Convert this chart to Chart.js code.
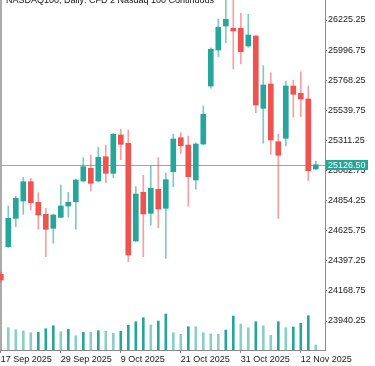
<!DOCTYPE html>
<html>
<head>
<meta charset="utf-8">
<script src="https://cdn.jsdelivr.net/npm/chart.js@4.4.0/dist/chart.umd.min.js"></script>
<style>
  html, body { margin: 0; padding: 0; background: #fff; }
  #wrap { width: 375px; height: 366px; position: relative; }
</style>
</head>
<body>
<div id="wrap"><canvas id="ndxChart"></canvas></div>
<script>
// daily bars, 17 Sep - 14 Nov 2025
var dates = ['17 Sep 2025', '18 Sep 2025', '19 Sep 2025', '22 Sep 2025', '23 Sep 2025', '24 Sep 2025',
  '25 Sep 2025', '26 Sep 2025', '29 Sep 2025', '30 Sep 2025', '1 Oct 2025', '2 Oct 2025', '3 Oct 2025',
  '6 Oct 2025', '7 Oct 2025', '8 Oct 2025', '9 Oct 2025', '10 Oct 2025', '13 Oct 2025', '14 Oct 2025',
  '15 Oct 2025', '16 Oct 2025', '17 Oct 2025', '20 Oct 2025', '21 Oct 2025', '22 Oct 2025', '23 Oct 2025',
  '24 Oct 2025', '27 Oct 2025', '28 Oct 2025', '29 Oct 2025', '30 Oct 2025', '31 Oct 2025', '3 Nov 2025',
  '4 Nov 2025', '5 Nov 2025', '6 Nov 2025', '7 Nov 2025', '10 Nov 2025', '11 Nov 2025', '12 Nov 2025',
  '13 Nov 2025', '14 Nov 2025'];

var opens = [24294.8, 24504.3, 24719.9, 24851.2, 24997.7, 24841.3, 24750.3, 24644.0, 24727.5, 24813.3,
  24845.9, 25003.1, 25099.5, 25003.1, 25187.5, 25061.5, 25352.3, 25289.3, 24547.6, 24917.3,
  24757.8, 24940.1, 24795.8, 25073.7, 25331.8, 25276.3, 25010.6, 25283.9, 25724.2, 25997.5,
  26179.7, 26162.3, 26162.3, 26027.9, 26103.8, 25555.0, 25739.4, 25301.4, 25327.2, 25724.2,
  25668.8, 25625.6, 25094.2];
var highs = [24312.2, 24813.3, 24889.2, 25031.2, 25023.6, 24914.2, 24795.8, 24752.5, 24972.7, 24917.3,
  25018.2, 25179.9, 25200.4, 25258.9, 25276.3, 25365.2, 25395.5, 25390.2, 24961.3, 25046.3,
  25116.9, 25179.9, 25063.8, 25357.6, 25369.7, 25344.7, 25293.8, 25572.4, 26015.0, 26232.9,
  26399.8, 26384.7, 26276.1, 26268.5, 26107.6, 25878.3, 25825.2, 25357.6, 25762.2, 25769.8,
  25832.8, 25724.2, 25154.9];
var lows = [24236.3, 24498.2, 24656.2, 24750.3, 24782.9, 24636.4, 24428.4, 24530.1, 24722.2, 24727.5,
  24636.4, 24995.5, 24927.1, 24995.5, 24990.2, 25028.1, 25164.8, 24390.4, 24542.2, 24428.4,
  24669.0, 24648.5, 24416.2, 24959.8, 25210.3, 24811.0, 24940.1, 25276.3, 25706.8, 25946.7,
  26052.9, 25853.3, 25891.3, 26018.0, 25521.6, 25289.3, 25205.8, 24716.9, 25271.0, 25486.6,
  25491.2, 25006.9, 25090.4];
var closes = [24251.5, 24719.9, 24871.7, 24997.7, 24838.3, 24744.9, 24636.4, 24744.9, 24813.3, 24841.3,
  25010.6, 25111.6, 24985.6, 25183.0, 25061.5, 25357.6, 25281.7, 24441.3, 24904.4, 24752.5,
  24947.6, 24790.5, 25012.9, 25321.9, 25271.0, 25035.7, 25283.9, 25509.4, 26002.8, 26169.9,
  26230.6, 26141.8, 25984.6, 26111.4, 25580.0, 25731.8, 25314.3, 25198.2, 25724.2, 25661.2,
  25625.6, 25081.2, 25126.5];
var volumes = [null, 223000, 203000, 190000, 173000, 177000, 213000, 243000, 183000, 207000,
  143000, 177000, 177000, 193000, 187000, 167000, 187000, 247000, 283000, 323000,
  250000, 290000, 360000, 173000, 157000, 233000, 233000, 173000, 160000, 157000,
  200000, 340000, 260000, 223000, 283000, 243000, 147000, 283000, 223000, 230000,
  267000, 343000, 50000];

var priceTicks = [26225.25, 25996.75, 25768.25, 25539.75, 25311.25, 25082.75, 24854.25,
  24625.75, 24397.25, 24168.75, 23940.25];
var dateTicks = ['17 Sep 2025', '29 Sep 2025', '9 Oct 2025', '21 Oct 2025', '31 Oct 2025', '12 Nov 2025'];
var lastPrice = 25126.50;
var chartTitle = 'NASDAQ100, Daily: CFD 2 Nasdaq 100 Continuous';

var UP = '#26a69a', DOWN = '#ef5350';
var UP_WICK = 'rgba(38,166,154,0.6)', DOWN_WICK = 'rgba(239,83,80,0.55)';
var VOL_UP = '#26a69a', VOL_DOWN = '#88cfc8';
var AXIS = '#8a8a8a';
var FONT = { family: 'Liberation Sans', size: 9 };

var isUp = closes.map(function (c, i) { return c >= opens[i]; });

var wickData = dates.map(function (d, i) { return { x: i, y: [lows[i], highs[i]] }; });
var bodyData = dates.map(function (d, i) { return { x: i, y: [opens[i], closes[i]] }; });
var volData = dates.map(function (d, i) { return { x: i, y: volumes[i] }; });
var volColors = volumes.map(function (v, i) {
  return (i > 0 && volumes[i - 1] != null && v > volumes[i - 1]) ? VOL_UP : VOL_DOWN;
});

// left frame + last price line, behind the candles
var frameLines = {
  id: 'frameLines',
  beforeDatasetsDraw(chart) {
    const { ctx, chartArea: { left, right, top, bottom } } = chart;
    const y = Math.round(chart.scales.y.getPixelForValue(lastPrice));
    ctx.save();
    ctx.fillStyle = '#ababab';
    ctx.fillRect(0, top, 2, bottom - top);
    ctx.fillStyle = '#5cc4b8';
    ctx.fillRect(left, y, right - left, 1);
    ctx.restore();
  }
};

// title and the last price tag
var overlays = {
  id: 'overlays',
  afterDraw(chart) {
    const { ctx, chartArea: { right } } = chart;
    const y = Math.round(chart.scales.y.getPixelForValue(lastPrice));
    ctx.save();
    ctx.font = "9px 'Liberation Sans'";
    ctx.fillStyle = '#111';
    ctx.textBaseline = 'alphabetic';
    ctx.textAlign = 'left';
    ctx.fillText(chartTitle, 6, 3);

    ctx.fillStyle = UP;
    ctx.fillRect(right + 1, y - 5, 42, 10);
    ctx.fillStyle = '#fff';
    ctx.textBaseline = 'middle';
    ctx.fillText(lastPrice.toFixed(2), right + 3, y + 0.5);
    ctx.restore();
  }
};

var config = {
  type: 'bar',
  data: {
    datasets: [{
      label: 'wicks',
      data: wickData,
      backgroundColor: isUp.map(function (u) { return u ? UP_WICK : DOWN_WICK; }),
      barThickness: 1,
      grouped: false,
      order: 3,
      yAxisID: 'y'
    }, {
      label: 'bodies',
      data: bodyData,
      backgroundColor: isUp.map(function (u) { return u ? UP : DOWN; }),
      barThickness: 5,
      grouped: false,
      order: 2,
      yAxisID: 'y'
    }, {
      label: 'volume',
      data: volData,
      backgroundColor: volColors,
      barThickness: 2,
      grouped: false,
      order: 1,
      yAxisID: 'vol'
    }]
  },
  options: {
    responsive: true,
    maintainAspectRatio: false,
    animation: false,
    devicePixelRatio: 1,
    events: [],
    layout: { padding: 0 },
    plugins: {
      legend: { display: false },
      tooltip: { enabled: false },
      title: { display: false }
    },
    scales: {
      x: {
        type: 'linear',
        min: -0.107,
        max: 43.227,
        offset: false,
        grid: { drawOnChartArea: false, tickLength: 3, color: AXIS, offset: false },
        border: { color: AXIS },
        ticks: {
          autoSkip: false,
          maxRotation: 0,
          align: 'start',
          padding: 1,
          color: '#1a1a1a',
          font: FONT,
          callback: function (v) { return dates[v]; }
        },
        afterBuildTicks: function (s) {
          s.ticks = dateTicks.map(function (l) { return { value: dates.indexOf(l) }; });
        },
        afterFit: function (s) {
          s.height = 16;
          s.paddingLeft = 0;
          s.paddingRight = 0;
        }
      },
      y: {
        type: 'linear',
        position: 'right',
        min: 23720.1,
        max: 26377.1,
        grid: { drawOnChartArea: false, tickLength: 2, color: AXIS },
        border: { color: AXIS },
        ticks: {
          padding: 1,
          color: '#1a1a1a',
          font: FONT,
          callback: function (v) { return v.toFixed(2); }
        },
        afterBuildTicks: function (s) {
          s.ticks = priceTicks.map(function (v) { return { value: v }; });
        },
        afterFit: function (s) {
          s.width = 50;
          s.paddingTop = 0;
          s.paddingBottom = 0;
        }
      },
      vol: {
        type: 'linear',
        display: false,
        min: 0,
        max: 3500000
      }
    }
  },
  plugins: [frameLines, overlays]
};

var ndxChart = new Chart(document.getElementById('ndxChart'), config);
</script>
</body>
</html>
